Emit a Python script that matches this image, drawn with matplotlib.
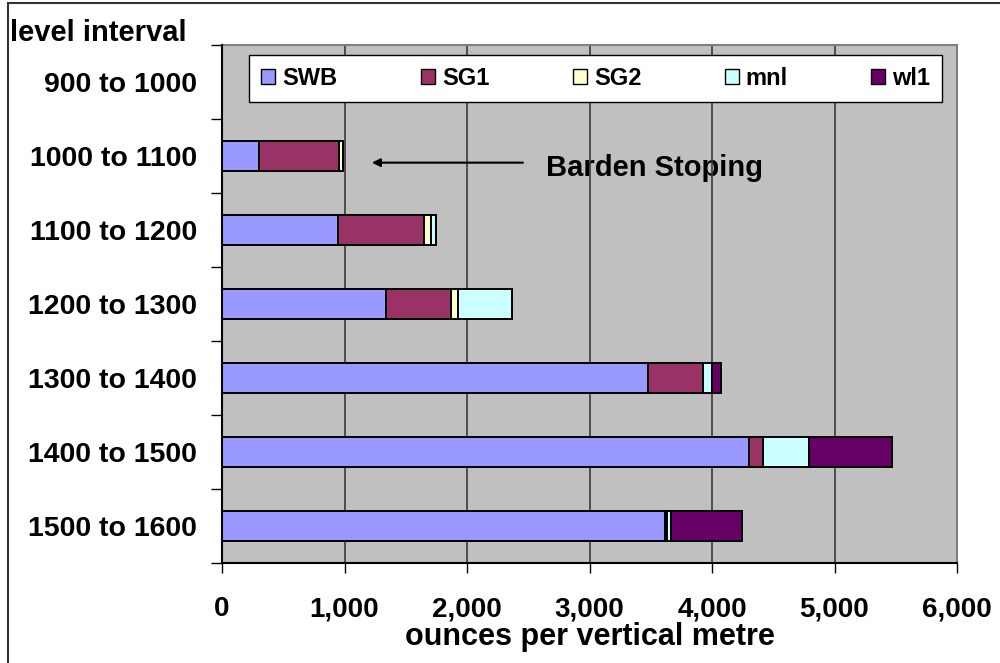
import matplotlib
matplotlib.use("Agg")
import matplotlib.pyplot as plt
from matplotlib.patches import Rectangle
from matplotlib.ticker import FuncFormatter, FixedLocator
import numpy as np

plt.rcParams['font.family'] = ['Liberation Sans', 'DejaVu Sans']
plt.rcParams['font.weight'] = 'bold'

# level intervals, top to bottom
levels = ['900 to 1000', '1000 to 1100', '1100 to 1200', '1200 to 1300',
          '1300 to 1400', '1400 to 1500', '1500 to 1600']

# ounces per vertical metre, per orebody
swb = [0, 300, 945, 1335, 3475, 4300, 3620]
sg1 = [0, 655, 700, 535, 450, 120, 15]
sg2 = [0, 35, 60, 60, 0, 0, 0]
mnl = [0, 0, 45, 440, 75, 375, 30]
wl1 = [0, 0, 0, 0, 75, 675, 580]

series = [('SWB', swb, '#9999FF'),
          ('SG1', sg1, '#993366'),
          ('SG2', sg2, '#FFFFCC'),
          ('mnl', mnl, '#CCFFFF'),
          ('wl1', wl1, '#660066')]

fig = plt.figure(figsize=(10, 6.63), dpi=100)
ax = fig.add_axes([0.222, 1 - 563 / 663, 0.735, 518 / 663])
ax.set_facecolor('#C0C0C0')

y = np.arange(len(levels))
left = np.zeros(len(levels))
for name, vals, col in series:
    vals = np.array(vals, dtype=float)
    ax.barh(y, vals, left=left, height=0.4, color=col, edgecolor='black',
            linewidth=1.4, label=name, zorder=3)
    left += vals

ax.set_xlim(0, 6000)
ax.set_ylim(len(levels) - 0.5, -0.5)

# gridlines
ax.xaxis.set_major_locator(FixedLocator(np.arange(0, 6001, 1000)))
ax.grid(axis='x', color='#3a3a3a', linewidth=1.2, zorder=1)
ax.set_axisbelow(True)

ax.xaxis.set_major_formatter(FuncFormatter(lambda v, p: f'{int(v):,}'))
ax.tick_params(axis='x', direction='out', length=7, width=1, pad=17,
               labelsize=20, colors='black')

ax.set_yticks(y)
ax.set_yticklabels(levels, fontsize=20.5, fontweight='bold')
ax.set_yticks(np.arange(-0.5, len(levels), 1.0), minor=True)
ax.tick_params(axis='y', which='major', length=0, pad=18)
ax.tick_params(axis='y', which='minor', direction='out', length=8, width=1)

ax.set_xlabel('ounces per vertical metre', fontsize=22, fontweight='bold',
              labelpad=0)

for s in ['left', 'bottom']:
    ax.spines[s].set_color('black')
    ax.spines[s].set_linewidth(1.5)
    ax.spines[s].set_zorder(4)
for s in ['top', 'right']:
    ax.spines[s].set_color('#808080')
    ax.spines[s].set_linewidth(1.5)

leg = ax.legend(loc='center', bbox_to_anchor=(0.037, 0.882, 0.943, 0.106),
                mode='expand', ncol=5, fontsize=17, frameon=True, fancybox=False,
                handlelength=0.6, handleheight=0.6, handletextpad=0.3,
                borderpad=0.5, borderaxespad=0, columnspacing=1.0)
leg.get_frame().set_edgecolor('black')
leg.get_frame().set_linewidth(1.0)
leg.get_frame().set_facecolor('white')
leg.get_frame().set_alpha(1)
for h in leg.legend_handles:
    h.set_linewidth(1.0)
leg.set_zorder(5)

# annotation
ax.annotate('', xy=(1224, 1.09), xytext=(2457, 1.09),
            arrowprops=dict(arrowstyle='-|>', color='black', lw=1.5,
                            mutation_scale=12, shrinkA=0, shrinkB=0), zorder=5)
ax.text(2645, 1.16, 'Barden Stoping', fontsize=21, fontweight='bold',
        ha='left', va='center', zorder=0.5)

fig.text(0.010, 0.950, 'level interval', fontsize=21, fontweight='bold',
         ha='left', va='center')

# outer frame
fig.patches.append(Rectangle((0.008, -0.01), 1.0, 1.005, transform=fig.transFigure,
                             fill=False, edgecolor='#333333', linewidth=1.5))

fig.savefig('out.png', dpi=100)
